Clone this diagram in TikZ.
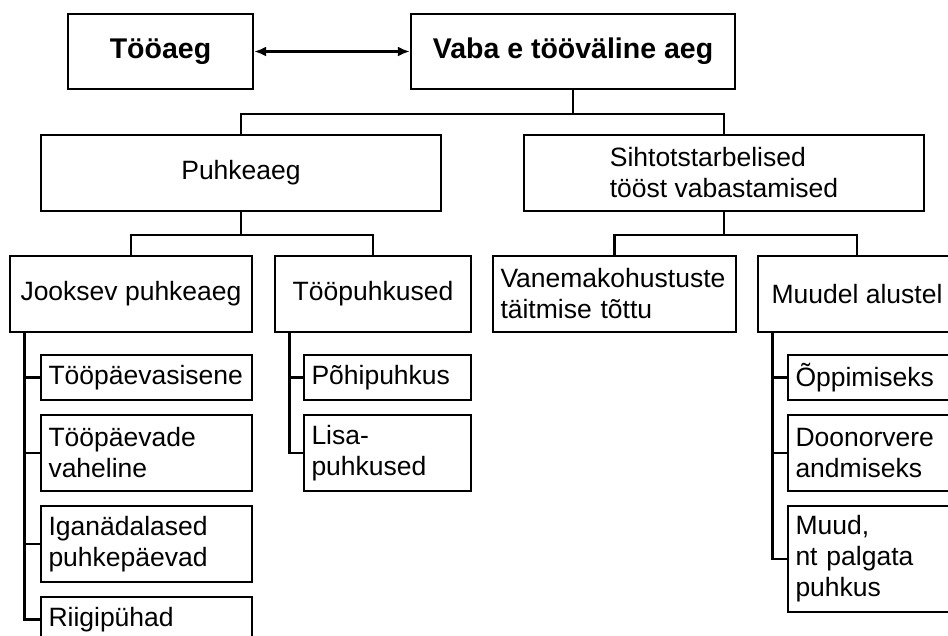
\documentclass[tikz,border=0pt]{standalone}
\usepackage{fontspec}
\setmainfont{Liberation Sans}
\usetikzlibrary{arrows.meta}

\begin{document}
\begin{tikzpicture}[x=1pt,y=-1pt,>={Latex[length=12pt,width=10pt]}]
  \tikzset{
    line/.style={line width=2.3pt},
    box/.style={draw,line,inner xsep=7.5pt,inner ysep=2pt,
      font=\fontsize{26.5}{31}\selectfont,minimum height=76pt},
    topbox/.style={box,font=\fontsize{28.5}{34}\selectfont\bfseries,
      minimum height=75pt},
    leaf/.style={box,align=left,text width=#1}
  }
  % page is the size of the reference, boxes on the right and bottom run over
  \useasboundingbox (0,0) rectangle (948,636);

  % first row
  \node[topbox,minimum width=185pt] (tooaeg) at (160.5,51.5) {Tööaeg};
  \node[topbox,minimum width=324pt] (vaba) at (573,51.5) {Vaba e tööväline aeg};
  \draw[line,<->] (tooaeg) -- (vaba);

  % second row
  \node[box,minimum width=400pt] (puhke) at (241,173) {Puhkeaeg};
  \node[box,minimum width=400pt,align=left] (siht) at (724,173)
    {Sihtotstarbelised\\tööst vabastamised};
  \draw[line] (vaba.south) -- ++(0,24) -| (puhke.north);
  \draw[line] (vaba.south) -- ++(0,24) -| (siht.north);

  % third row
  \node[box,minimum width=242pt] (jooksev) at (131,294) {Jooksev puhkeaeg};
  \node[box,minimum width=196pt] (toopuhk) at (373,294) {Tööpuhkused};
  \node[leaf=228pt] (vanem) at (614.5,294) {Vanemakohustuste\\täitmise tõttu};
  \node[box,minimum width=198pt] (muudel) at (857,294) {Muudel alustel};
  \draw[line] (puhke.south) -- ++(0,23) -| (jooksev.north);
  \draw[line] (puhke.south) -- ++(0,23) -| (toopuhk.north);
  \draw[line] (siht.south) -- ++(0,23) -| (vanem.north);
  \draw[line] (siht.south) -- ++(0,23) -| (muudel.north);

  % leaves under Jooksev puhkeaeg
  \node[leaf=196pt,minimum height=45pt] (tps) at (146.5,377.5) {Tööpäevasisene};
  \node[leaf=196pt] (tpv) at (146.5,453) {Tööpäevade\\vaheline};
  \node[leaf=196pt] (iga) at (146.5,544) {Iganädalased\\puhkepäevad};
  \node[leaf=196pt,minimum height=45pt] (riigi) at (146.5,619.5) {Riigipühad};
  \foreach \leafname in {tps,tpv,iga,riigi}
    \draw[line] ([xshift=15.5pt]jooksev.south west) |- (\leafname.west);

  % leaves under Tööpuhkused
  \node[leaf=152pt,minimum height=45pt] (pohi) at (387.5,377.5) {Põhipuhkus};
  \node[leaf=152pt] (lisa) at (387.5,453) {Lisa-\\puhkused};
  \foreach \leafname in {pohi,lisa}
    \draw[line] ([xshift=15.5pt]toopuhk.south west) |- (\leafname.west);

  % leaves under Muudel alustel
  \node[leaf=153pt,minimum height=45pt] (oppi) at (872,377.5) {Õppimiseks};
  \node[leaf=153pt] (doonor) at (872,453) {Doonorvere\\andmiseks};
  \node[leaf=153pt,minimum height=106pt] (muud) at (872,559)
    {Muud,\\nt palgata\\puhkus};
  \foreach \leafname in {oppi,doonor,muud}
    \draw[line] ([xshift=15.5pt]muudel.south west) |- (\leafname.west);
\end{tikzpicture}
\end{document}
